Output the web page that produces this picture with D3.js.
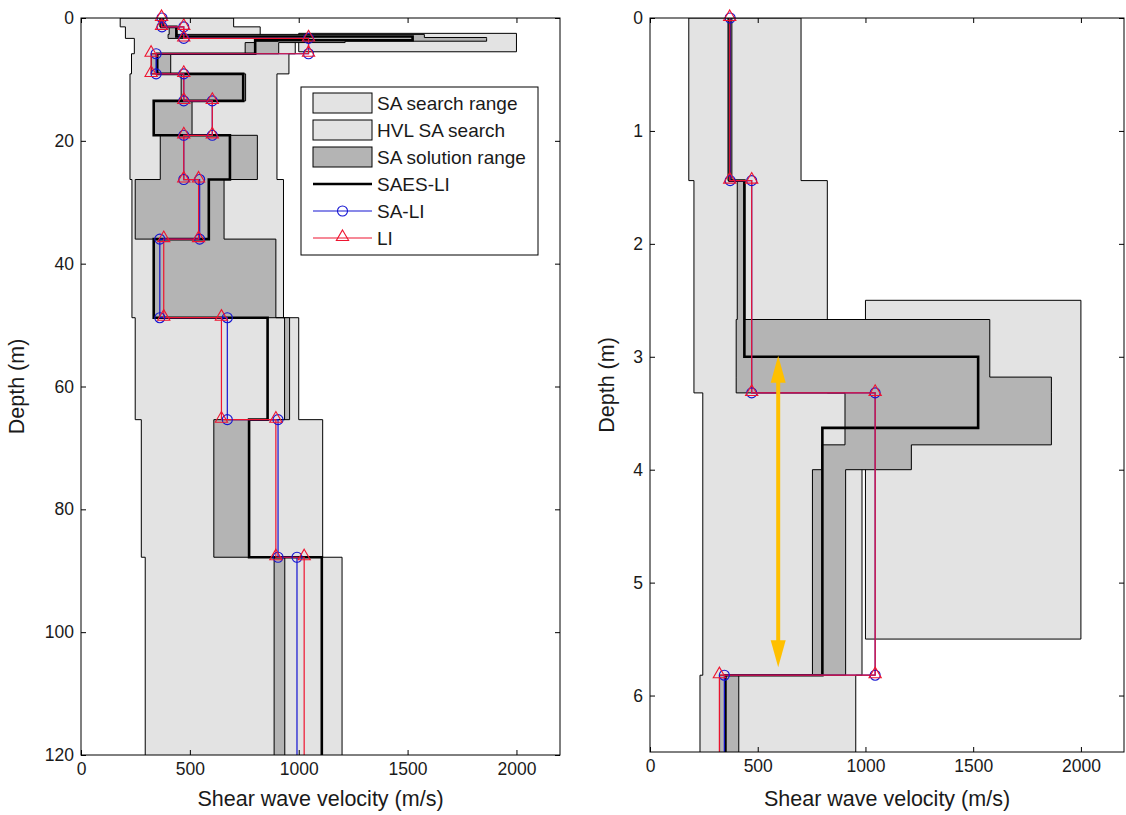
<!DOCTYPE html>
<html>
<head>
<meta charset="utf-8">
<script src="https://cdn.jsdelivr.net/npm/d3@7"></script>
<style>
  body { margin: 0; background: #fff; }
  text { font-family: "Liberation Sans", Arial, sans-serif; fill: #1a1a1a; }
</style>
</head>
<body>
<svg id="chart" width="1126" height="815"></svg>
<script>
// tick values
var velTicks = [0, 500, 1000, 1500, 2000];
var depthTicksLeft = [0, 20, 40, 60, 80, 100, 120];
var depthTicksRight = [0, 1, 2, 3, 4, 5, 6];

// SA search range, per layer (m, m/s)
var searchDepth = [0, 1.44, 3.32, 5.82, 9.1, 26.3, 48.8, 65.4, 87.8, 130];
var searchMin = [180, 204, 245, 232, 225, 234, 249, 277, 295];
var searchMax = [701, 823, 984, 955, 900, 930, 1000, 1110, 1199];

// HVL SA search box
var hvlDepth = [2.5, 5.5];
var hvlMin = [1000];
var hvlMax = [2000];

// SA solution range
var solDepth = [0, 1.44, 2.67, 3.18, 3.32, 3.78, 4.0, 5.82, 9.1, 13.5, 19.1, 26.3, 36, 48.8, 65.4, 87.8, 130];
var solMin = [362, 405, 400, 400, 905, 798, 754, 323, 460, 334, 364, 249, 334, 935, 610, 887];
var solMax = [380, 440, 1577, 1863, 1863, 1213, 908, 412, 756, 510, 810, 657, 895, 958, 772, 936];

// SAES-LI profile
var saesDepth = [0, 1.44, 3.0, 3.63, 5.82, 9.1, 13.5, 19.1, 26.3, 36, 48.8, 65.4, 87.8, 130];
var saesVel = [370, 438, 1523, 800, 350, 745, 334, 684, 587, 334, 857, 772, 1106];

// SA-LI and LI profiles
var liDepth = [0, 1.44, 3.32, 5.82, 9.1, 13.5, 19.1, 26.3, 36, 48.8, 65.4, 87.8, 130];
var saliVel = [372, 472, 1045, 345, 472, 603, 472, 545, 362, 672, 905, 992];
var liVel = [370, 472, 1045, 322, 472, 603, 472, 540, 380, 645, 895, 1025];

// arrow in the zoomed panel
var arrowVel = 595;
var arrowDepth = [2.99, 5.75];

var lightGray = "#e3e3e3";
var darkGray = "#b4b4b4";
var blue = "#1414d2";
var red = "#ee1530";
var yellow = "#ffc000";

var svg = d3.select("#chart");

var panels = [
  { x0: 81, x1: 560, y0: 18, y1: 755, depthMax: 120, ticks: depthTicksLeft, labelX: 24, legend: true },
  { x0: 650, x1: 1124, y0: 18, y1: 752, depthMax: 6.5, ticks: depthTicksRight, labelX: 614, arrow: true }
];

function steps(depth, vel) {
  var pts = [];
  vel.forEach(function(v, i) {
    pts.push([v, depth[i]]);
    pts.push([v, depth[i + 1]]);
  });
  return pts;
}

function band(depth, vmin, vmax) {
  return steps(depth, vmin).concat(steps(depth, vmax).reverse());
}

panels.forEach(function(p, i) {
  var x = d3.scaleLinear().domain([0, 2200]).range([p.x0, p.x1]);
  var y = d3.scaleLinear().domain([0, p.depthMax]).range([p.y0, p.y1]);
  var line = d3.line()
      .x(function(d) { return x(d[0]); })
      .y(function(d) { return y(d[1]); });

  svg.append("clipPath").attr("id", "clip" + i)
    .append("rect")
      .attr("x", p.x0).attr("y", p.y0)
      .attr("width", p.x1 - p.x0).attr("height", p.y1 - p.y0);

  var g = svg.append("g");
  var plot = g.append("g").attr("clip-path", "url(#clip" + i + ")");

  plot.append("path")
      .attr("d", line(band(searchDepth, searchMin, searchMax)) + "Z")
      .attr("fill", lightGray).attr("stroke", "#000").attr("stroke-width", 1);

  plot.append("path")
      .attr("d", line(band(hvlDepth, hvlMin, hvlMax)) + "Z")
      .attr("fill", lightGray).attr("stroke", "#000").attr("stroke-width", 1);

  plot.append("path")
      .attr("d", line(band(solDepth, solMin, solMax)) + "Z")
      .attr("fill", darkGray).attr("stroke", "#000").attr("stroke-width", 1);

  plot.append("path")
      .attr("d", line(steps(saesDepth, saesVel)))
      .attr("fill", "none").attr("stroke", "#000").attr("stroke-width", 2.6);

  var saliPts = steps(liDepth, saliVel);
  var liPts = steps(liDepth, liVel);

  plot.append("path")
      .attr("d", line(saliPts))
      .attr("fill", "none").attr("stroke", blue).attr("stroke-width", 1.2);
  plot.append("path")
      .attr("d", line(liPts))
      .attr("fill", "none").attr("stroke", red).attr("stroke-width", 1.2);

  // markers are not clipped, only vertices inside the depth range
  function inside(d) { return d[1] >= 0 && d[1] <= p.depthMax; }

  g.append("g").selectAll("circle")
    .data(saliPts.filter(inside))
    .enter().append("circle")
      .attr("cx", function(d) { return x(d[0]); })
      .attr("cy", function(d) { return y(d[1]); })
      .attr("r", 5)
      .attr("fill", "none").attr("stroke", blue).attr("stroke-width", 1.1);

  var tri = d3.symbol().type(d3.symbolTriangle).size(65);
  g.append("g").selectAll("path")
    .data(liPts.filter(inside))
    .enter().append("path")
      .attr("d", tri)
      .attr("transform", function(d) { return "translate(" + x(d[0]) + "," + (y(d[1]) - 1) + ")"; })
      .attr("fill", "none").attr("stroke", red).attr("stroke-width", 1.1);

  if (p.arrow) {
    var ax = x(arrowVel), ya = y(arrowDepth[0]), yb = y(arrowDepth[1]);
    g.append("line")
        .attr("x1", ax).attr("x2", ax)
        .attr("y1", ya + 20).attr("y2", yb - 20)
        .attr("stroke", yellow).attr("stroke-width", 4);
    g.append("path")
        .attr("d", "M" + ax + "," + ya + "L" + (ax - 7.5) + "," + (ya + 27) + "L" + (ax + 7.5) + "," + (ya + 27) + "Z")
        .attr("fill", yellow);
    g.append("path")
        .attr("d", "M" + ax + "," + yb + "L" + (ax - 7.5) + "," + (yb - 27) + "L" + (ax + 7.5) + "," + (yb - 27) + "Z")
        .attr("fill", yellow);
  }

  // axes, ticks inside on all four sides
  function style(sel) {
    sel.select(".domain").remove();
    sel.selectAll(".tick line").attr("stroke", "#000");
    sel.selectAll("text")
        .attr("font-family", "Liberation Sans, Arial, sans-serif")
        .attr("font-size", 17.5)
        .attr("fill", "#1a1a1a");
    sel.attr("font-family", null).attr("font-size", null);
  }

  var fmt = d3.format("d");
  g.append("g").attr("transform", "translate(0," + p.y1 + ")")
      .call(d3.axisBottom(x).tickValues(velTicks).tickFormat(fmt).tickSize(-5).tickPadding(8)).call(style);
  g.append("g").attr("transform", "translate(0," + p.y0 + ")")
      .call(d3.axisTop(x).tickValues(velTicks).tickSize(-5).tickFormat("")).call(style);
  g.append("g").attr("transform", "translate(" + p.x0 + ",0)")
      .call(d3.axisLeft(y).tickValues(p.ticks).tickFormat(fmt).tickSize(-5).tickPadding(7)).call(style);
  g.append("g").attr("transform", "translate(" + p.x1 + ",0)")
      .call(d3.axisRight(y).tickValues(p.ticks).tickSize(-5).tickFormat("")).call(style);

  g.append("rect")
      .attr("x", p.x0).attr("y", p.y0)
      .attr("width", p.x1 - p.x0).attr("height", p.y1 - p.y0)
      .attr("fill", "none").attr("stroke", "#000").attr("stroke-width", 1);

  g.append("text")
      .attr("x", (p.x0 + p.x1) / 2).attr("y", 806)
      .attr("text-anchor", "middle").attr("font-size", 21.5)
      .text("Shear wave velocity (m/s)");
  g.append("text")
      .attr("transform", "translate(" + p.labelX + "," + ((p.y0 + p.y1) / 2) + ") rotate(-90)")
      .attr("text-anchor", "middle").attr("font-size", 21.5)
      .text("Depth (m)");

  if (p.legend) {
    var lg = g.append("g");
    lg.append("rect")
        .attr("x", 301).attr("y", 87).attr("width", 237).attr("height", 168)
        .attr("fill", "#fff").attr("stroke", "#000");
    var items = [
      { name: "SA search range", kind: "box", fill: lightGray },
      { name: "HVL SA search", kind: "box", fill: lightGray },
      { name: "SA solution range", kind: "box", fill: darkGray },
      { name: "SAES-LI", kind: "line", color: "#000", width: 2.6 },
      { name: "SA-LI", kind: "circle", color: blue, width: 1.2 },
      { name: "LI", kind: "tri", color: red, width: 1.2 }
    ];
    items.forEach(function(it, k) {
      var cy = 103 + k * 27;
      if (it.kind === "box") {
        lg.append("rect").attr("x", 313).attr("y", cy - 10).attr("width", 59).attr("height", 20)
            .attr("fill", it.fill).attr("stroke", "#000");
      } else {
        lg.append("line").attr("x1", 313).attr("x2", 372).attr("y1", cy).attr("y2", cy)
            .attr("stroke", it.color).attr("stroke-width", it.width);
        if (it.kind === "circle") {
          lg.append("circle").attr("cx", 342.5).attr("cy", cy).attr("r", 5)
              .attr("fill", "none").attr("stroke", it.color).attr("stroke-width", 1.1);
        }
        if (it.kind === "tri") {
          lg.append("path").attr("d", tri).attr("transform", "translate(342.5," + (cy - 1) + ")")
              .attr("fill", "none").attr("stroke", it.color).attr("stroke-width", 1.1);
        }
      }
      lg.append("text").attr("x", 377).attr("y", cy).attr("dy", "0.35em")
          .attr("font-size", 19).text(it.name);
    });
  }
});
</script>
</body>
</html>
